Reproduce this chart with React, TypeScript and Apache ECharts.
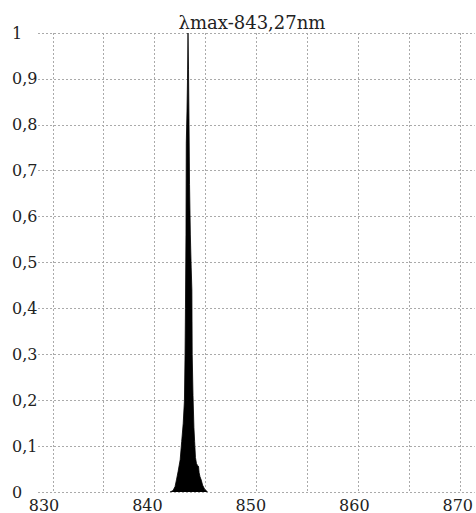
import React, { useEffect, useRef } from "react";
import * as echarts from "echarts";

const titleText = "λmax-843,27nm";
const wavelength = [841.5, 841.8, 842.0, 842.15, 842.3, 842.5, 842.65, 842.8, 842.92, 842.98, 843.02, 843.07, 843.1, 843.17, 843.22, 843.27, 843.32, 843.37, 843.42, 843.5, 843.58, 843.65, 843.68, 843.76, 843.85, 843.92, 844.0, 844.1, 844.2, 844.3, 844.36, 844.45, 844.57, 844.7, 844.9, 845.2];
const intensity = [0, 0.003, 0.012, 0.028, 0.045, 0.07, 0.11, 0.15, 0.2, 0.3, 0.4, 0.56, 0.76, 0.83, 0.9, 1.0, 0.92, 0.8, 0.67, 0.56, 0.49, 0.44, 0.3, 0.21, 0.14, 0.11, 0.075, 0.062, 0.058, 0.056, 0.042, 0.033, 0.026, 0.015, 0.006, 0];
const xGridValues = [830, 835, 840, 845, 850, 855, 860, 865, 870];
const xLabelValues = [830, 840, 850, 860, 870];

const FONT = "DejaVu Serif";

export default function App() {
  const ref = useRef<HTMLDivElement>(null);
  useEffect(() => {
    if (!ref.current) return;
    const chart = echarts.init(ref.current, null, { renderer: "svg" });
    const data = wavelength.map((x, i) => [x, intensity[i]]);
    chart.setOption({
      animation: false,
      backgroundColor: "#fff",
      graphic: [
        {
          type: "text",
          x: 252,
          y: 22,
          style: {
            text: titleText,
            fontFamily: FONT,
            fontSize: 18,
            fill: "#222",
            textAlign: "center",
            textVerticalAlign: "middle",
          },
        },
      ],
      grid: { left: 38, right: 0, top: 33, bottom: 20, containLabel: false },
      xAxis: [
        {
          type: "value",
          min: 828.55,
          max: 871.4,
          position: "bottom",
          axisLine: { show: false },
          axisTick: { show: false, customValues: xGridValues },
          axisLabel: { show: false },
          splitLine: { show: true, lineStyle: { color: "#aaa", type: [2, 2], width: 1 } },
        },
        {
          type: "value",
          min: 829.42,
          max: 871.64,
          position: "bottom",
          axisLine: { show: false },
          axisTick: { show: false, customValues: xLabelValues },
          splitLine: { show: false },
          axisLabel: {
            show: true,
            customValues: xLabelValues,
            fontFamily: FONT,
            fontSize: 16,
            color: "#222",
            margin: 5,
          },
        },
      ],
      yAxis: {
        type: "value",
        min: 0,
        max: 1,
        interval: 0.1,
        axisLine: { show: false },
        axisTick: { show: false },
        axisLabel: {
          fontFamily: FONT,
          fontSize: 16,
          color: "#222",
          align: "left",
          margin: 26,
          formatter: (v: number) => String(Math.round(v * 10) / 10).replace(".", ","),
        },
        splitLine: { show: true, lineStyle: { color: "#aaa", type: [2, 2], width: 1 } },
      },
      series: [
        {
          type: "line",
          xAxisIndex: 0,
          data,
          showSymbol: false,
          symbol: "none",
          lineStyle: { color: "#000", width: 0.8 },
          areaStyle: { color: "#000", opacity: 1 },
          itemStyle: { color: "#000" },
        },
      ],
    });
    return () => chart.dispose();
  }, []);
  return (
    <div
      ref={ref}
      style={{ position: "fixed", left: 0, top: 0, width: 476, height: 513 }}
    />
  );
}
